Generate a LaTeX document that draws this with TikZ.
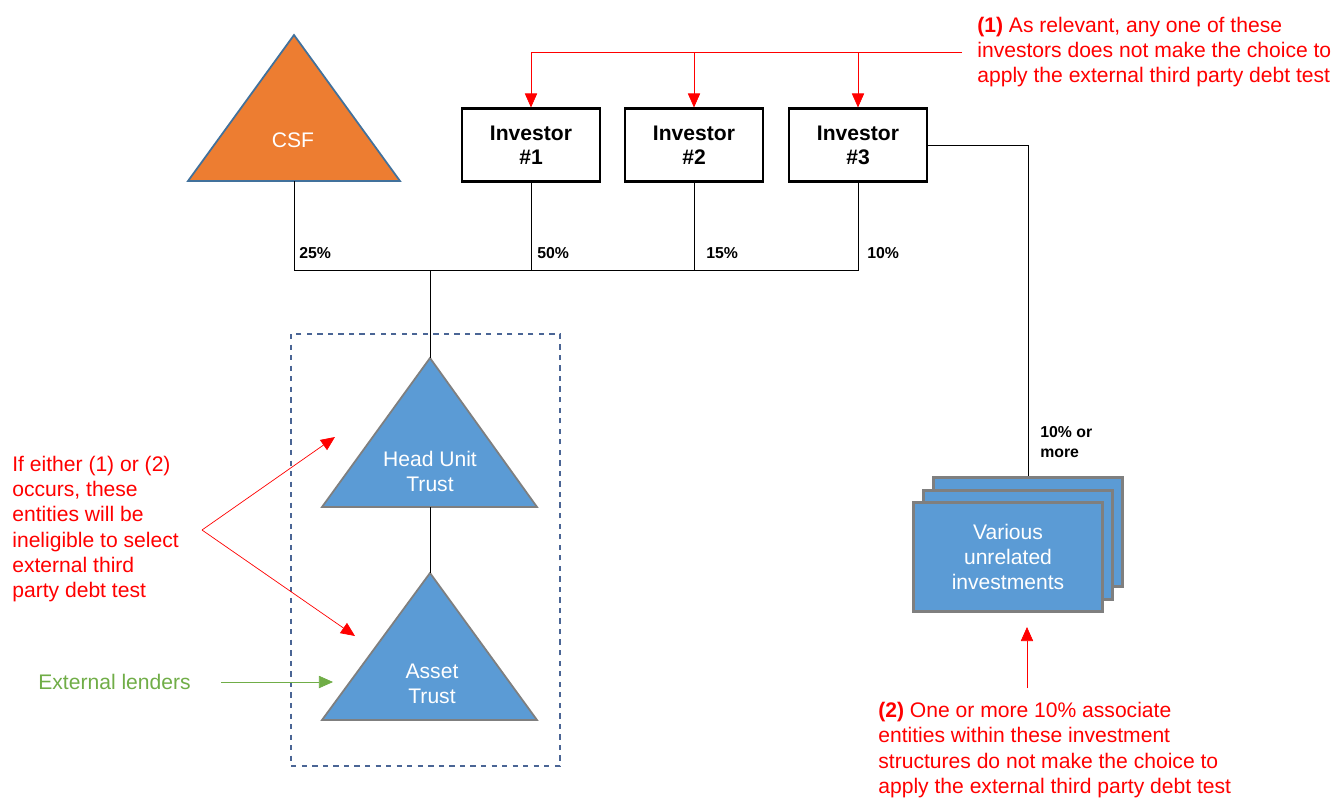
\documentclass[tikz,border=0pt]{standalone}
\usepackage{fontspec}
\setmainfont{Liberation Sans}
\usetikzlibrary{arrows.meta}

\definecolor{csforange}{HTML}{ED7D31}
\definecolor{csfedge}{HTML}{41719C}
\definecolor{trustblue}{HTML}{5B9BD5}
\definecolor{edgegray}{HTML}{7F7F7F}
\definecolor{boxdash}{HTML}{4A6595}
\definecolor{notered}{HTML}{FF0000}
\definecolor{lendgreen}{HTML}{70AD47}

\tikzset{
  investor/.style={draw,line width=1.2pt,minimum width=2.76cm,minimum height=1.46cm,
    align=center,font=\fontsize{12}{13.6}\selectfont\bfseries},
  holding/.style={draw=edgegray,line width=1.6pt,fill=trustblue,minimum width=3.78cm,
    minimum height=2.18cm},
  trust/.style={fill=trustblue,draw=edgegray,line width=1pt},
  intext/.style={text=white,align=center,font=\fontsize{12}{14.2}\selectfont},
  pct/.style={anchor=west,inner sep=0,align=left,font=\fontsize{9}{11.3}\selectfont\bfseries},
  note/.style={anchor=west,inner sep=0,align=left,text=notered,font=\fontsize{12}{14.3}\selectfont},
  redarrow/.style={notered,-{Triangle[length=8pt,width=7pt]}},
}

\begin{document}
\begin{tikzpicture}[x=0.02cm,y=-0.02cm]
\useasboundingbox (0,0) rectangle (1340,799);

% entities
\draw[fill=csforange,draw=csfedge,line width=1pt] (294,35) -- (400,181) -- (188,181) -- cycle;
\node[intext] (csf) at (293,140) {CSF};
\coordinate (csfb) at (294,181);

\node[investor] (inv1) at (531,145) {Investor\\\#1};
\node[investor] (inv2) at (694,145) {Investor\\\#2};
\node[investor] (inv3) at (858,145) {Investor\\\#3};

\draw[boxdash,dashed,line width=0.7pt] (291,334) rectangle (560,766);

\draw[trust] (430,358) -- (537,507) -- (322,507) -- cycle;
\node[intext] (hut) at (430,471) {Head Unit\\Trust};
\coordinate (huttop) at (430,358);
\coordinate (hutb) at (430,507);

\draw[trust] (430,573) -- (537,720) -- (322,720) -- cycle;
\node[intext] (asset) at (432,684) {Asset\\Trust};
\coordinate (assettop) at (430,573);

\node[holding] (invc) at (1028,532) {};
\node[holding] (invb) at (1018,545) {};
\node[holding,intext] (inva) at (1008,557) {Various\\unrelated\\investments};

% ownership
\coordinate (bar) at (430,270);
\draw (csfb) |- (bar);
\foreach \i in {1,2,3}
  \draw (inv\i.south) |- (bar);
\draw (bar) -- (huttop);
\draw (hutb) -- (assettop);
\draw (inv3.east) -| (invc.north);

\node[pct] at (299,253) {25\%};
\node[pct] at (537,253) {50\%};
\node[pct] at (706,253) {15\%};
\node[pct] at (867,253) {10\%};
\node[pct] at (1040,442) {10\% or\\more};

% notes
\node[note] (note1) at (977,52) {\textbf{(1)} As relevant, any one of these\\investors does not make the choice to\\apply the external third party debt test};
\coordinate (note1end) at ([xshift=-0.3cm]note1.west);
\draw[notered] (note1end) -- (note1end -| inv1.north);
\foreach \i in {1,2,3}
  \draw[redarrow] (note1end -| inv\i.north) -- (inv\i.north);

\node[note] (note3) at (12,529) {If either (1) or (2)\\occurs, these\\entities will be\\ineligible to select\\external third\\party debt test};
\coordinate (fork) at (202,530);
\coordinate (hutside) at (335,437);
\coordinate (assetside) at (355,636);
\draw[redarrow] (fork) -- (hutside);
\draw[redarrow] (fork) -- (assetside);

\node[note,text=lendgreen] (lend) at (38,682) {External lenders};
\coordinate (assetleft) at (333,682);
\draw[lendgreen,-{Triangle[length=8pt,width=7pt]}] ([xshift=0.6cm]lend.east) -- (assetleft);

\node[note] (note2) at (878,750) {\textbf{(2)} One or more 10\% associate\\entities within these investment\\structures do not make the choice to\\apply the external third party debt test};
\coordinate (up) at (1027,688);
\coordinate (invfoot) at (1027,627);
\draw[redarrow] (up) -- (invfoot);
\end{tikzpicture}
\end{document}
